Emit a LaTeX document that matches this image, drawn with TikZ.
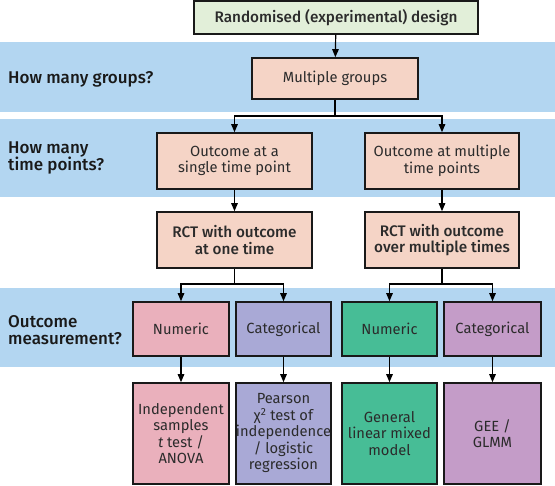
\documentclass[tikz,border=0pt]{standalone}
\usepackage{fontspec}
\setmainfont{Fira Sans}
\newfontfamily\medfont{Fira Sans Medium}
\usetikzlibrary{arrows.meta}
\definecolor{band}{HTML}{B3D6F1}
\definecolor{peach}{HTML}{F5D4C6}
\definecolor{topgreen}{HTML}{E2EFD9}
\definecolor{numA}{HTML}{EAB0BC}
\definecolor{catA}{HTML}{A9A9D6}
\definecolor{numB}{HTML}{47BD96}
\definecolor{catB}{HTML}{C49CC8}
\definecolor{txt}{HTML}{2B2B2B}
\tikzset{
  box/.style={draw=black!90, line width=1.6pt, inner sep=0pt, align=center, font=\fontsize{14.7}{16.5}\selectfont, text=txt},
  medbox/.style={box, font=\medfont\fontsize{15.3}{16.5}\selectfont},
  bandlabel/.style={anchor=west, align=left, inner sep=0pt, font=\medfont\fontsize{17}{17.5}\selectfont, text=black!90},
  conn/.style={line width=1.2pt},
  arr/.style={conn, -{Triangle[length=8pt,width=6.5pt]}},
}
\begin{document}
\begin{tikzpicture}[x=1pt,y=-1pt]
\useasboundingbox (0,0) rectangle (555,486);
% bands
\fill[band] (0,42) rectangle (555,112);
\fill[band] (0,119) rectangle (555,197);
\fill[band] (0,288) rectangle (555,367);
% labels
\node[bandlabel] (l1) at (8,79) {How many groups?};
\node[bandlabel] (l2) at (8,158) {How many\\time points?};
\node[bandlabel] (l3) at (8,330) {Outcome\\measurement?};
% boxes
\node[medbox, fill=topgreen, minimum width=284pt, minimum height=33pt] (top) at (336,17.3) {Randomised (experimental) design};
\node[box, fill=peach, minimum width=166pt, minimum height=41pt] (mg) at (335,78.5) {Multiple groups};
\node[box, fill=peach, minimum width=155pt, minimum height=56pt] (os) at (234.5,161) {Outcome at a\\single time point};
\node[box, fill=peach, minimum width=154pt, minimum height=56pt] (om) at (442,161) {Outcome at multiple\\time points};
\node[medbox, fill=peach, minimum width=155pt, minimum height=56pt] (rs) at (234.5,240) {RCT with outcome\\at one time};
\node[medbox, fill=peach, minimum width=154pt, minimum height=56pt] (rm) at (442,240) {RCT with outcome\\over multiple times};
\node[box, fill=numA, minimum width=96pt, minimum height=54pt] (n1) at (181,329) {Numeric};
\node[box, fill=catA, minimum width=95pt, minimum height=54pt] (c1) at (283.5,329) {Categorical};
\node[box, fill=numB, minimum width=95pt, minimum height=54pt] (n2) at (389.5,329) {Numeric};
\node[box, fill=catB, minimum width=97pt, minimum height=54pt] (c2) at (492.5,329) {Categorical};
\node[box, fill=numA, minimum width=96pt, minimum height=101pt] (t1) at (181,433.5) {Independent\\samples\\\textit{t} test /\\ANOVA};
\node[box, fill=catA, minimum width=95pt, minimum height=101pt] (t2) at (283.5,433.5) {Pearson\\χ\textsuperscript{2} test of\\independence\\/ logistic\\regression};
\node[box, fill=numB, minimum width=95pt, minimum height=101pt] (t3) at (389.5,433.5) {General\\linear mixed\\model};
\node[box, fill=catB, minimum width=97pt, minimum height=101pt] (t4) at (492.5,433.5) {GEE /\\GLMM};
% connectors
\coordinate (b1) at (335,116);
\coordinate (b2) at (234.5,284);
\coordinate (b3) at (442,284);
\draw[arr] (top) -- (mg);
\draw[conn] (mg) -- (b1);
\draw[arr] (b1) -| (os);
\draw[arr] (b1) -| (om);
\draw[arr] (os) -- (rs);
\draw[arr] (om) -- (rm);
\draw[conn] (rs) -- (b2);
\draw[arr] (b2) -| (n1);
\draw[arr] (b2) -| (c1);
\draw[conn] (rm) -- (b3);
\draw[arr] (b3) -| (n2);
\draw[arr] (b3) -| (c2);
\draw[arr] (n1) -- (t1);
\draw[arr] (c1) -- (t2);
\draw[arr] (n2) -- (t3);
\draw[arr] (c2) -- (t4);
\end{tikzpicture}
\end{document}
